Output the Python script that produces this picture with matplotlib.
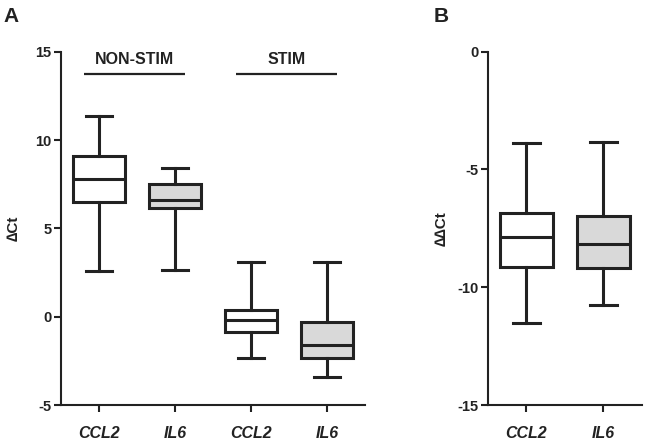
import matplotlib
matplotlib.use("Agg")
import matplotlib.pyplot as plt

plt.rcParams['font.family'] = ['Liberation Sans', 'DejaVu Sans']
plt.rcParams['axes.unicode_minus'] = False

# panel A: delta Ct box summaries
a_labels = ["CCL2", "IL6", "CCL2", "IL6"]
a_whislo = [2.60, 2.64, -2.32, -3.40]
a_q1 = [6.51, 6.13, -0.88, -2.36]
a_med = [7.81, 6.62, -0.19, -1.60]
a_q3 = [9.11, 7.51, 0.38, -0.31]
a_whishi = [11.36, 8.40, 3.08, 3.08]
a_fill = ["white", "#d9d9d9", "white", "#d9d9d9"]
a_groups = ["NON-STIM", "STIM"]

# panel B: delta delta Ct box summaries
b_labels = ["CCL2", "IL6"]
b_whislo = [-11.50, -10.76]
b_q1 = [-9.13, -9.17]
b_med = [-7.85, -8.17]
b_q3 = [-6.86, -6.97]
b_whishi = [-3.88, -3.84]
b_fill = ["white", "#d9d9d9"]

INK = "#222222"
LW = 2.2


def stats(lo, q1, med, q3, hi):
    return [dict(whislo=a, q1=b, med=c, q3=d, whishi=e, fliers=[])
            for a, b, c, d, e in zip(lo, q1, med, q3, hi)]


def draw(ax, st, fills, labels):
    pos = list(range(1, len(st) + 1))
    bp = ax.bxp(st, positions=pos, widths=0.68, patch_artist=True,
                showfliers=False,
                boxprops=dict(linewidth=LW, edgecolor=INK),
                medianprops=dict(linewidth=LW, color=INK),
                whiskerprops=dict(linewidth=LW, color=INK),
                capprops=dict(linewidth=LW, color=INK))
    for patch, fc in zip(bp["boxes"], fills):
        patch.set_facecolor(fc)
    ax.set_xticks(pos)
    ax.set_xticklabels(labels, fontsize=11.5, fontweight="bold",
                       fontstyle="italic", color=INK)
    ax.set_xlim(0.5, len(st) + 0.5)
    for s in ("top", "right"):
        ax.spines[s].set_visible(False)
    for s in ("left", "bottom"):
        ax.spines[s].set_linewidth(1.5)
        ax.spines[s].set_color(INK)
    ax.tick_params(axis="x", length=5, width=1.5, pad=10, color=INK)
    ax.tick_params(axis="y", length=5, width=1.5, pad=2, color=INK,
                   labelsize=10.5, labelcolor=INK)
    for t in ax.get_yticklabels():
        t.set_fontweight("bold")
    return pos


fig = plt.figure(figsize=(6.46, 4.44), dpi=100)
axA = fig.add_axes([0.0944, 0.0878, 0.4706, 0.7957])
axB = fig.add_axes([0.7554, 0.0878, 0.2384, 0.7957])

axA.set_ylim(-5, 15)
axA.set_yticks([-5, 0, 5, 10, 15])
posA = draw(axA, stats(a_whislo, a_q1, a_med, a_q3, a_whishi), a_fill, a_labels)
axA.set_ylabel("\u2206Ct", fontsize=11, fontweight="bold", color=INK, va="center")
axA.yaxis.set_label_coords(-0.155, 0.5)

# group bars above the boxes
for g, (x0, x1) in zip(a_groups, [(posA[0], posA[1]), (posA[2], posA[3])]):
    axA.plot([x0 - 0.2, x1 + 0.13], [13.73, 13.73], color=INK, lw=1.6,
             clip_on=False, solid_capstyle="butt")
    axA.text((x0 + x1) / 2 - 0.03, 14.15, g, ha="center", va="bottom",
             fontsize=11.5, fontweight="bold", color=INK)

axB.set_ylim(-15, 0)
axB.set_yticks([-15, -10, -5, 0])
draw(axB, stats(b_whislo, b_q1, b_med, b_q3, b_whishi), b_fill, b_labels)
axB.set_ylabel("\u2206\u2206Ct", fontsize=11, fontweight="bold", color=INK, va="center")
axB.yaxis.set_label_coords(-0.30, 0.5)

fig.text(0.006, 0.985, "A", fontsize=15, fontweight="bold", va="top", color=INK)
fig.text(0.672, 0.985, "B", fontsize=15, fontweight="bold", va="top", color=INK)

fig.savefig("out.png", dpi=100)
